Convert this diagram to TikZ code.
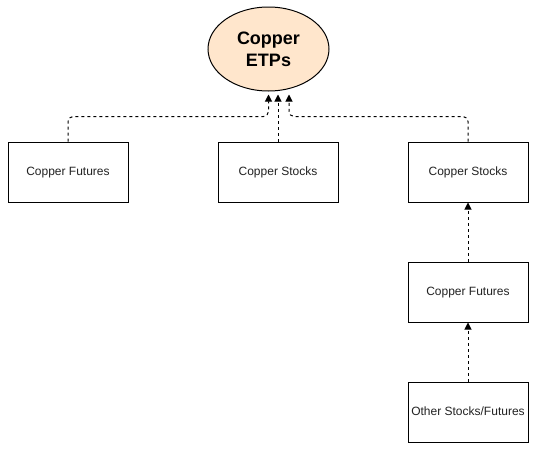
\documentclass[tikz,border=0pt]{standalone}
\usepackage{fontspec}
\setmainfont{Liberation Sans}
\usetikzlibrary{arrows.meta,shapes.geometric,calc}
\definecolor{peach}{HTML}{FFE6CC}
\definecolor{txt}{HTML}{222222}
\begin{document}
\begin{tikzpicture}[x=1pt,y=-1pt,
  box/.style={draw, line width=1pt, minimum width=120pt, minimum height=60pt, inner sep=0pt,
    font=\fontsize{12}{14}\selectfont, text=txt, text height=10pt, text depth=2.5pt},
  oval/.style={ellipse, draw, fill=peach, line width=1pt, minimum width=121pt, minimum height=84pt,
    inner sep=0pt, align=center, font=\bfseries\fontsize{18}{22}\selectfont},
  conn/.style={line width=1pt, dash pattern=on 3pt off 3pt,
    -{Triangle[length=7pt,width=7pt]}, rounded corners=5pt}]
\useasboundingbox[fill=white] (0,0) rectangle (547,461);
\node[oval] (e) at (268.5,49) {Copper\\ETPs};
\coordinate (eb) at ([yshift=-3pt]e.south);
\node[box] (a) at (68,172) {Copper Futures};
\node[box] (b) at (278,172) {Copper Stocks};
\node[box] (c) at (468,172) {Copper Stocks};
\node[box] (d) at (468,292) {Copper Futures};
\node[box] (f) at (468,412) {Other Stocks/Futures};
\draw[conn] (a.north) -- ++(0,-25) -| (eb);
\draw[conn] (b.north) -- (b.north |- eb);
\draw[conn] (c.north) -- ++(0,-25) -| ([xshift=20.5pt]eb);
\draw[conn] (d.north) -- (c.south);
\draw[conn] (f.north) -- (d.south);
\end{tikzpicture}
\end{document}
